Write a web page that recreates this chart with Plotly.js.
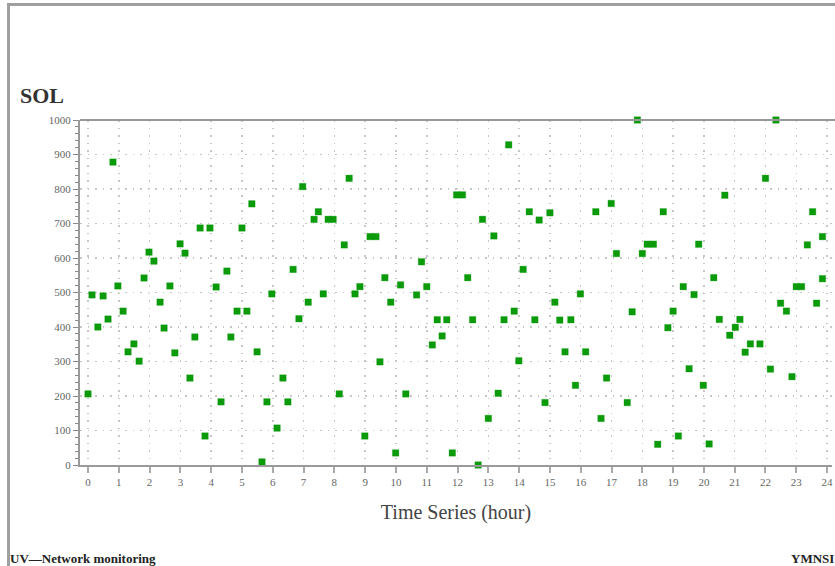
<!DOCTYPE html>
<html>
<head>
<meta charset="utf-8">
<script src="https://cdn.plot.ly/plotly-3.0.1.min.js"></script>
<style>
  html, body { margin: 0; padding: 0; background: #fff; }
  #wrap { position: relative; width: 835px; height: 566px; overflow: hidden; }
  #chart { width: 835px; height: 566px; }
  #frame { position: absolute; left: 7px; top: 3px; width: 835px; height: 570px;
           border-left: 3px solid #a0a0a0; border-top: 3px solid #a0a0a0; pointer-events: none; }
</style>
</head>
<body>
<div id="wrap">
  <div id="chart"></div>
  <div id="frame"></div>
</div>
<script>
// Time (hour) of each sample
const hours = [
  0.0, 0.13, 0.32, 0.49, 0.65, 0.81, 0.97, 1.14, 1.30, 1.49,
  1.66, 1.82, 1.98, 2.14, 2.34, 2.47, 2.66, 2.82, 2.99, 3.15,
  3.31, 3.47, 3.64, 3.80, 3.96, 4.16, 4.32, 4.51, 4.64, 4.84,
  5.00, 5.16, 5.32, 5.49, 5.65, 5.81, 5.97, 6.14, 6.33, 6.49,
  6.66, 6.85, 6.97, 7.15, 7.34, 7.48, 7.64, 7.80, 7.96, 8.16,
  8.32, 8.48, 8.67, 8.83, 8.99, 9.16, 9.35, 9.48, 9.64, 9.83,
  9.99, 10.15, 10.32, 10.67, 10.83, 11.00, 11.18, 11.34, 11.50, 11.65,
  11.83, 11.97, 12.16, 12.33, 12.49, 12.67, 12.81, 13.00, 13.18, 13.32,
  13.51, 13.66, 13.84, 13.99, 14.13, 14.33, 14.51, 14.65, 14.84, 15.00,
  15.16, 15.32, 15.49, 15.68, 15.83, 15.99, 16.16, 16.49, 16.66, 16.84,
  16.99, 17.16, 17.51, 17.67, 17.84, 18.00, 18.16, 18.36, 18.50, 18.68,
  18.83, 19.00, 19.17, 19.33, 19.52, 19.68, 19.83, 19.98, 20.17, 20.32,
  20.50, 20.68, 20.84, 21.02, 21.17, 21.34, 21.51, 21.82, 22.00, 22.16,
  22.34, 22.49, 22.68, 22.86, 23.00, 23.17, 23.36, 23.53, 23.66, 23.85,
  23.85
];
// SOL value of each sample
const sol = [
  206, 493, 400, 490, 423, 878, 519, 446, 328, 351,
  301, 542, 617, 591, 472, 397, 519, 325, 641, 614,
  252, 371, 687, 84, 687, 516, 183, 562, 371, 446,
  687, 446, 757, 328, 9, 183, 496, 107, 252, 183,
  567, 424, 807, 472, 712, 734, 496, 712, 712, 206,
  638, 831, 496, 517, 84, 662, 662, 299, 543, 472,
  35, 522, 206, 493, 589, 517, 348, 421, 374, 421,
  35, 783, 783, 543, 421, 0, 712, 135, 664, 208,
  421, 928, 446, 302, 567, 734, 421, 710, 181, 731,
  472, 420, 328, 421, 231, 496, 328, 734, 135, 252,
  758, 613, 181, 444, 1000, 613, 640, 640, 60, 734,
  398, 446, 84, 517, 279, 494, 640, 231, 61, 543,
  422, 782, 376, 399, 422, 327, 351, 351, 831, 278,
  1000, 469, 446, 256, 517, 517, 638, 734, 469, 662,
  540
];
const xTicks = [0,1,2,3,4,5,6,7,8,9,10,11,12,13,14,15,16,17,18,19,20,21,22,23,24];
const yTicks = [0,100,200,300,400,500,600,700,800,900,1000];

const serif = 'Liberation Serif, Times New Roman, serif';

const trace = {
  x: hours, y: sol, type: 'scatter', mode: 'markers',
  marker: { symbol: 'square', size: 6.5, color: '#0a9a0a', line: { width: 0.6, color: 'rgba(0,150,0,0.5)' } },
  cliponaxis: false, hoverinfo: 'skip'
};

const gridDash = '1.5px,6px';

const layout = {
  width: 835, height: 566,
  margin: { l: 80, r: 3, t: 120, b: 101, pad: 0 },
  paper_bgcolor: '#fff', plot_bgcolor: '#fff',
  showlegend: false,
  font: { family: serif, color: '#555' },
  xaxis: {
    range: [-0.26, 24.16],
    tickvals: xTicks, ticktext: xTicks.map(String),
    ticks: 'outside', ticklen: 6, tickwidth: 2, tickcolor: '#aaa',
    tickfont: { family: serif, size: 11, color: '#666' },
    showgrid: true, gridcolor: '#c6c6c6', griddash: gridDash, gridwidth: 1.5,
    showline: true, linecolor: '#999', linewidth: 2, mirror: false,
    zeroline: false,
    title: { text: 'Time Series (hour)', font: { family: serif, size: 20, color: '#444' }, standoff: 18 }
  },
  yaxis: {
    range: [0, 1000],
    tickvals: yTicks, ticktext: yTicks.map(String),
    ticks: 'outside', ticklen: 5, tickwidth: 1, tickcolor: '#888',
    tickfont: { family: serif, size: 11, color: '#666' },
    minor: { dtick: 20, ticks: 'outside', ticklen: 3, tickcolor: '#888', showgrid: false },
    showgrid: true, gridcolor: '#c6c6c6', griddash: gridDash, gridwidth: 1.5,
    showline: true, linecolor: '#999', linewidth: 2,
    zeroline: false
  },
  shapes: [
    { type: 'line', xref: 'paper', yref: 'paper', x0: 0, x1: 1.01, y0: 1, y1: 1,
      line: { color: '#999', width: 2 } }
  ],
  annotations: [
    { text: '<b>SOL</b>', xref: 'paper', yref: 'paper', x: -0.082, y: 1.028, xanchor: 'left', yanchor: 'bottom',
      showarrow: false, font: { family: serif, size: 22, color: '#333' } },
    { text: '<b>UV\u2014Network monitoring</b>', xref: 'paper', yref: 'paper', x: -0.096, y: -0.27,
      xanchor: 'left', yanchor: 'middle', showarrow: false, font: { family: serif, size: 13, color: '#222' } },
    { text: '<b>YMNSI</b>', xref: 'paper', yref: 'paper', x: 0.943, y: -0.27,
      xanchor: 'left', yanchor: 'middle', showarrow: false, font: { family: serif, size: 13, color: '#222' } }
  ]
};

Plotly.newPlot('chart', [trace], layout, { staticPlot: true, displayModeBar: false });
</script>
</body>
</html>
